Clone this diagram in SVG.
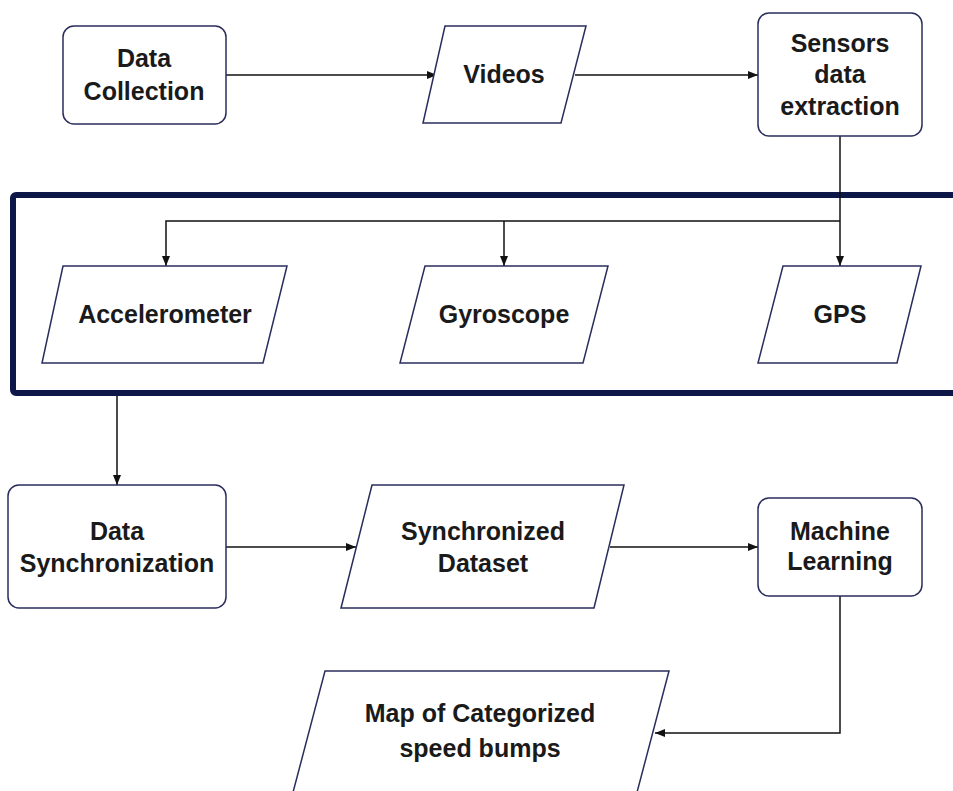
<svg xmlns="http://www.w3.org/2000/svg" width="953" height="791" viewBox="0 0 953 791">
<defs>
<marker id="ah" viewBox="0 0 10 10" refX="10" refY="5" markerWidth="10" markerHeight="10" markerUnits="userSpaceOnUse" orient="auto">
<path d="M0,1 L10,5 L0,9 Z" fill="#111"/>
</marker>
<style>
.n{fill:#fff;stroke:#2a2d5c;stroke-width:1.5}
.t{font-family:"Liberation Sans",Arial,sans-serif;font-weight:bold;font-size:25px;fill:#1a1a1a;text-anchor:middle}
.c{fill:none;stroke:#111;stroke-width:1.5}
</style>
</defs>
<rect width="953" height="791" fill="#fff"/>
<g id="group-box">
<rect x="13" y="195" width="950" height="198" fill="none" stroke="#0d1848" stroke-width="6" rx="3"/>
</g>
<g id="connectors">
<line class="c" x1="226" y1="75" x2="437" y2="75" marker-end="url(#ah)"/>
<line class="c" x1="575" y1="75" x2="758" y2="75" marker-end="url(#ah)"/>
<line class="c" x1="840" y1="136" x2="840" y2="266" marker-end="url(#ah)"/>
<polyline class="c" points="840,221 166,221 166,266" marker-end="url(#ah)"/>
<line class="c" x1="504" y1="221" x2="504" y2="266" marker-end="url(#ah)"/>
<line class="c" x1="117" y1="396" x2="117" y2="485" marker-end="url(#ah)"/>
<line class="c" x1="226" y1="547" x2="356" y2="547" marker-end="url(#ah)"/>
<line class="c" x1="610" y1="547" x2="758" y2="547" marker-end="url(#ah)"/>
<polyline class="c" points="840,596 840,733 655,733" marker-end="url(#ah)"/>
</g>
<g id="data-collection">
<rect class="n" x="63" y="26" width="163" height="98" rx="11"/>
<text class="t" x="144" y="67">Data</text>
<text class="t" x="144" y="100">Collection</text>
</g>
<g id="videos">
<polygon class="n" points="445,26 586,26 561,123 423,123"/>
<text class="t" x="504" y="83">Videos</text>
</g>
<g id="sensors">
<rect class="n" x="758" y="13" width="164" height="123" rx="11"/>
<text class="t" x="840" y="52">Sensors</text>
<text class="t" x="840" y="83">data</text>
<text class="t" x="840" y="115">extraction</text>
</g>
<g id="accelerometer">
<polygon class="n" points="63,266 287,266 263,363 42,363"/>
<text class="t" x="165" y="323">Accelerometer</text>
</g>
<g id="gyroscope">
<polygon class="n" points="425,266 608,266 583,363 400,363"/>
<text class="t" x="504" y="323">Gyroscope</text>
</g>
<g id="gps">
<polygon class="n" points="783,266 921,266 897,363 758,363"/>
<text class="t" x="840" y="323">GPS</text>
</g>
<g id="data-sync">
<rect class="n" x="8" y="485" width="218" height="123" rx="11"/>
<text class="t" x="117" y="540">Data</text>
<text class="t" x="117" y="572">Synchronization</text>
</g>
<g id="sync-dataset">
<polygon class="n" points="372,485 624,485 594,608 341,608"/>
<text class="t" x="483" y="540">Synchronized</text>
<text class="t" x="483" y="572">Dataset</text>
</g>
<g id="machine-learning">
<rect class="n" x="758" y="498" width="164" height="98" rx="11"/>
<text class="t" x="840" y="540">Machine</text>
<text class="t" x="840" y="570">Learning</text>
</g>
<g id="map">
<polygon class="n" points="325,671 669,671 635,800 291,800"/>
<text class="t" x="480" y="722">Map of Categorized</text>
<text class="t" x="480" y="757">speed bumps</text>
</g>
</svg>
